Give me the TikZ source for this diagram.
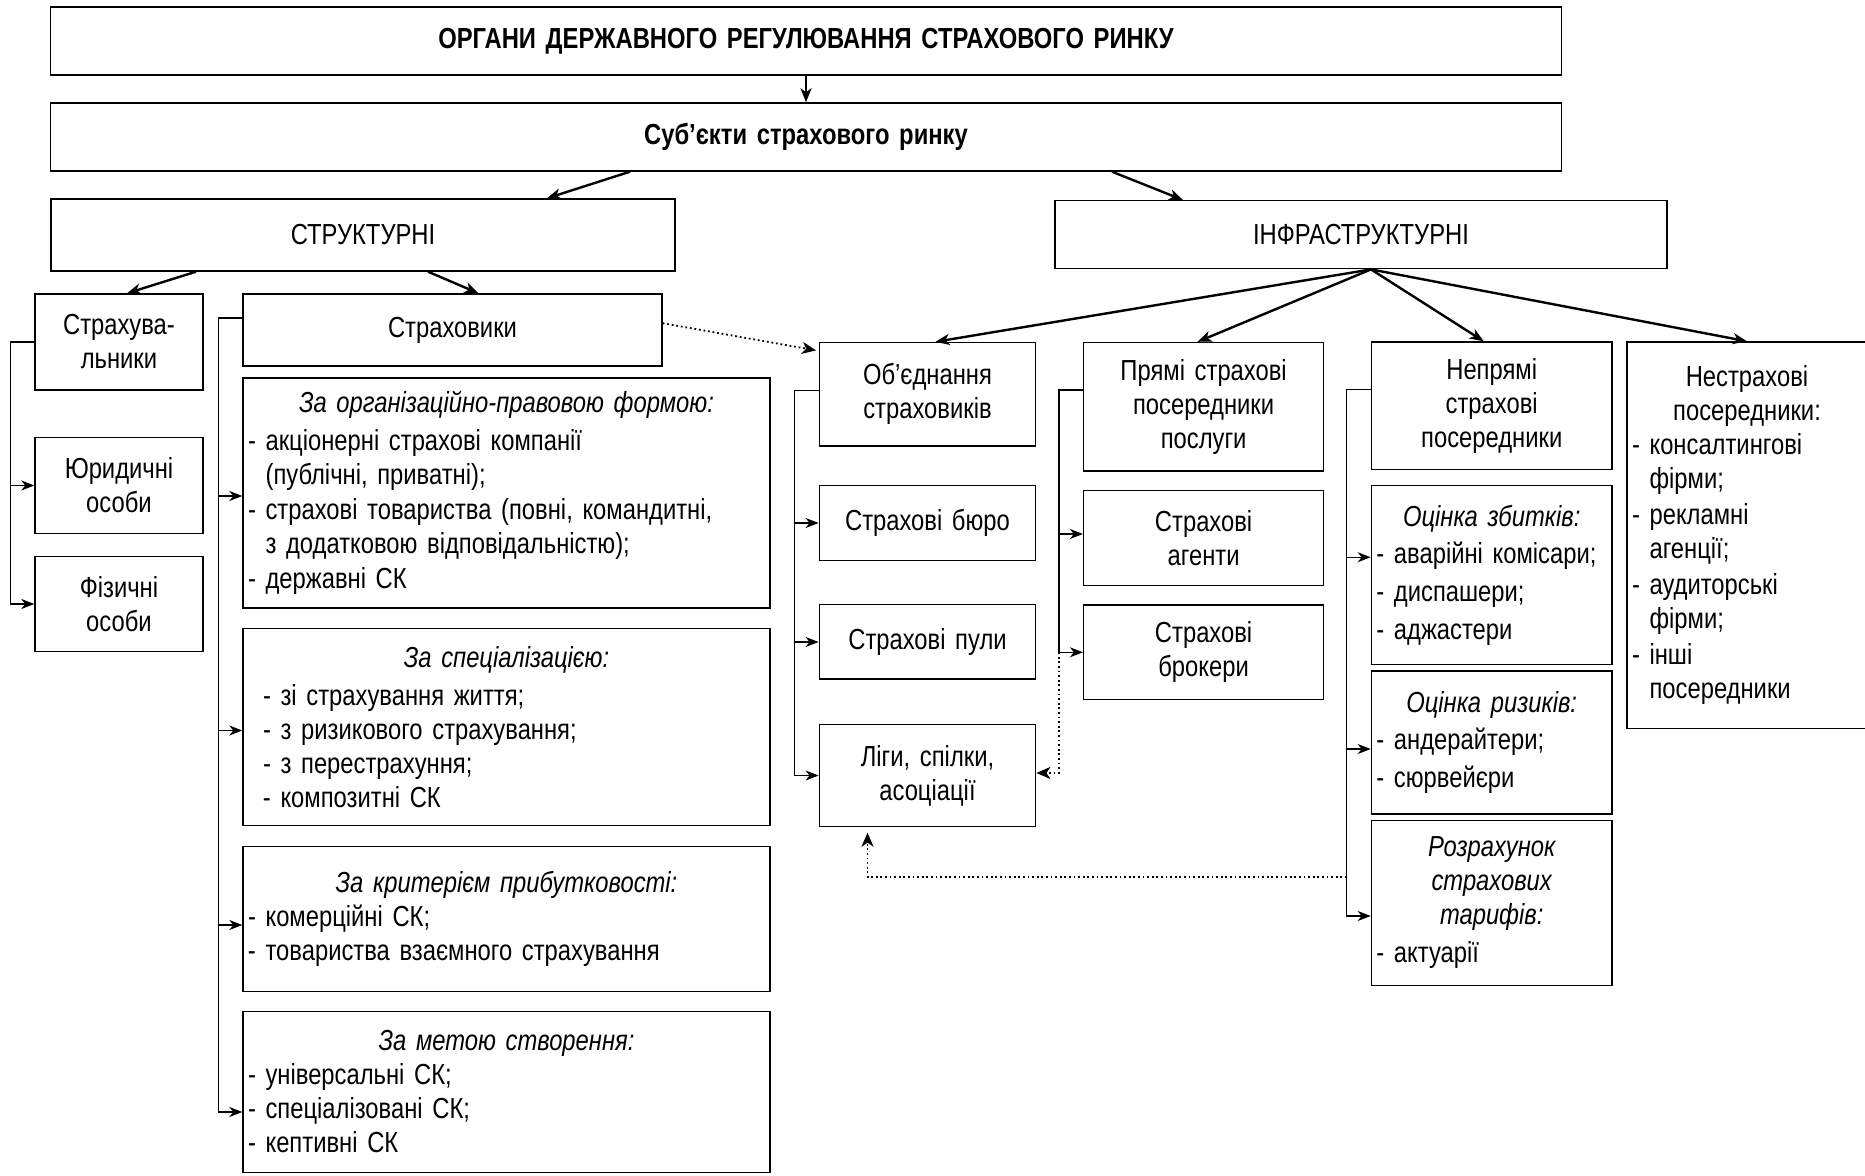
\documentclass[tikz,border=0pt]{standalone}
\usepackage{fontspec}
\setmainfont[FakeStretch=0.82]{Liberation Sans}
\usetikzlibrary{arrows.meta}

\newcommand{\bxfont}{\fontsize{14.5}{17}\selectfont}
\tikzset{
  box/.style={draw, line width=0.7pt, inner xsep=2.5pt, inner ysep=0pt, align=center, font=\bxfont},
  arr/.style={line width=1.2pt, -{Stealth[length=7pt, width=5.5pt, inset=2pt]}},
  brk/.style={line width=0.6pt, -{Stealth[length=6.5pt, width=5pt, inset=2pt]}},
  dotarr/.style={line width=0.9pt, dash pattern=on 0.9pt off 1.4pt, -{Stealth[length=7pt, width=6pt, inset=2pt]}}
}

\begin{document}
\begin{tikzpicture}[x=0.5pt, y=-0.5pt]
\useasboundingbox (0,0) rectangle (1865,1176);

% top levels
\node[box, text width=750.5pt, minimum height=34pt, font=\bxfont\bfseries] (organy) at (806,41) {ОРГАНИ ДЕРЖАВНОГО РЕГУЛЮВАННЯ СТРАХОВОГО РИНКУ};
\node[box, text width=750.5pt, minimum height=34pt, font=\bxfont\bfseries] (subj) at (806,137) {Суб’єкти страхового ринку};
\node[box, text width=307pt, minimum height=36pt] (struct) at (363,235) {СТРУКТУРНІ};
\node[box, text width=301pt, minimum height=34pt] (infra) at (1361,234.7) {ІНФРАСТРУКТУРНІ};

% structural
\node[box, text width=79pt, minimum height=48pt] (strakhuv) at (119,342) {Страхува-\\льники};
\node[box, text width=79pt, minimum height=48pt] (yuryd) at (119,485.5) {Юридичні\\особи};
\node[box, text width=79pt, minimum height=47.5pt] (fiz) at (119,604) {Фізичні\\особи};
\node[box, text width=204.5pt, minimum height=36pt] (strakhovyky) at (452.5,330) {Страховики};

\node[box, text width=258.5pt, minimum height=115pt, align=left] (org) at (506.5,493)
  {{\centering\itshape За організаційно-правовою формою:\par}\vspace{2pt}
   - акціонерні страхові компанії\\
   \phantom{- }(публічні, приватні);\\[0.5pt]
   - страхові товариства (повні, командитні,\\
   \phantom{- }з додатковою відповідальністю);\\[0.5pt]
   - державні СК};
\node[box, text width=258.5pt, minimum height=98.4pt, align=left] (spec) at (506.5,727)
  {{\centering\itshape За спеціалізацією:\par}\vspace{2pt}
   \hspace*{7.5pt}- зі страхування життя;\\
   \hspace*{7.5pt}- з ризикового страхування;\\
   \hspace*{7.5pt}- з перестрахуння;\\
   \hspace*{7.5pt}- композитні СК};
\node[box, text width=258.5pt, minimum height=72.6pt, align=left] (profit) at (506.5,919)
  {{\centering\itshape За критерієм прибутковості:\par}
   - комерційні СК;\\
   - товариства взаємного страхування};
\node[box, text width=258.5pt, minimum height=80.3pt, align=left] (meta) at (506.5,1092)
  {{\centering\itshape За метою створення:\par}
   - універсальні СК;\\
   - спеціалізовані СК;\\
   - кептивні СК};

% infrastructural
\node[box, text width=103.2pt, minimum height=51.75pt] (obyed) at (927.5,394.25) {Об’єднання\\страховиків};
\node[box, text width=103.2pt, minimum height=37.5pt] (buro) at (927.5,523) {Страхові бюро};
\node[box, text width=103.2pt, minimum height=37.2pt] (puly) at (927.5,642) {Страхові пули};
\node[box, text width=103.2pt, minimum height=50.9pt] (ligy) at (927.5,775.5) {Ліги, спілки,\\асоціації};

\node[box, text width=115pt, minimum height=64.25pt] (pryami) at (1203.6,406.75) {Прямі страхові\\посередники\\послуги};
\node[box, text width=115pt, minimum height=47.35pt] (agenty) at (1203.6,538) {Страхові\\агенти};
\node[box, text width=115pt, minimum height=47.3pt] (brokery) at (1203.6,652.3) {Страхові\\брокери};

\node[box, text width=115.3pt, minimum height=63.8pt] (nepryami) at (1491.7,405.8) {Непрямі\\страхові\\посередники};
\node[box, text width=115.3pt, minimum height=89.5pt, align=left] (zbytky) at (1491.7,575.25)
  {{\centering\itshape Оцінка збитків:\par}\vspace{1.5pt}
   - аварійні комісари;\\[2pt]
   - диспашери;\\[2pt]
   - аджастери};
\node[box, text width=115.3pt, minimum height=71.5pt, align=left] (ryzyky) at (1491.7,742.5)
  {{\centering\itshape Оцінка ризиків:\par}\vspace{1.5pt}
   - андерайтери;\\[2pt]
   - сюрвейєри};
\node[box, text width=115.3pt, minimum height=82.65pt, align=left] (taryfy) at (1491.7,903)
  {{\centering\itshape Розрахунок\\страхових\\тарифів:\par}\vspace{2pt}
   - актуарії};

\node[box, text width=115pt, minimum height=193.3pt, align=left] (nestrakh) at (1747,535.3)
  {{\centering Нестрахові\\посередники:\par}
   - консалтингові\\
   \phantom{- }фірми;\\[1pt]
   - рекламні\\
   \phantom{- }агенції;\\[1pt]
   - аудиторські\\
   \phantom{- }фірми;\\[1pt]
   - інші\\
   \phantom{- }посередники};

% main arrows
\draw[arr] (organy) -- (subj);
\draw[arr] ([xshift=-88pt]subj.south) -- ([xshift=92pt]struct.north);
\draw[arr] ([xshift=153pt]subj.south) -- ([xshift=-89pt]infra.north);
\draw[arr] ([xshift=-83.5pt]struct.south) -- ([xshift=4pt]strakhuv.north);
\draw[arr] ([xshift=32.5pt]struct.south) -- ([xshift=13pt]strakhovyky.north);
\coordinate (fan) at ([xshift=5pt]infra.south);
\foreach \b/\s in {obyed/4pt, pryami/-3pt, nepryami/-4pt, nestrakh/0pt}
  \draw[arr] (fan) -- ([xshift=\s]\b.north);

% brackets
\draw[brk] (strakhuv.west) -- ++(-12pt,0) |- (fiz.west);
\draw[brk] ([xshift=-12pt]yuryd.west) -- (yuryd.west);

\draw[brk] ([yshift=6pt]strakhovyky.west) -- ++(-12pt,0) |- ([yshift=-10pt]meta.west);
\foreach \b/\s in {org/-1.5pt, spec/-1.75pt, profit/-3pt}
  \draw[brk] ([xshift=-12pt,yshift=\s]\b.west) -- ([yshift=\s]\b.west);

\draw[brk] ([yshift=2pt]obyed.west) -- ++(-12pt,0) |- (ligy.west);
\foreach \b in {buro, puly}
  \draw[brk] ([xshift=-12pt]\b.west) -- (\b.west);

\draw[brk] ([yshift=8.4pt]pryami.west) -- ++(-12pt,0) |- (brokery.west);
\draw[brk] ([xshift=-12pt,yshift=2pt]agenty.west) -- ([yshift=2pt]agenty.west);

\draw[brk] ([yshift=8pt]nepryami.west) -- ++(-12pt,0) |- ([yshift=-6.5pt]taryfy.west);
\draw[brk] ([xshift=-12pt,yshift=9pt]zbytky.west) -- ([yshift=9pt]zbytky.west);
\draw[brk] ([xshift=-12pt,yshift=-3.25pt]ryzyky.west) -- ([yshift=-3.25pt]ryzyky.west);

% dotted links
\draw[dotarr] ([yshift=3.4pt]strakhovyky.east) -- ([xshift=-1.3pt,yshift=-4.3pt]obyed.north west);
\draw[dotarr] ([xshift=-12pt]brokery.west) |- ([yshift=1.25pt]ligy.east);
\draw[dotarr] ([xshift=-12pt,yshift=13pt]taryfy.west) -| ([xshift=-30pt,yshift=-2.8pt]ligy.south);
\end{tikzpicture}
\end{document}
